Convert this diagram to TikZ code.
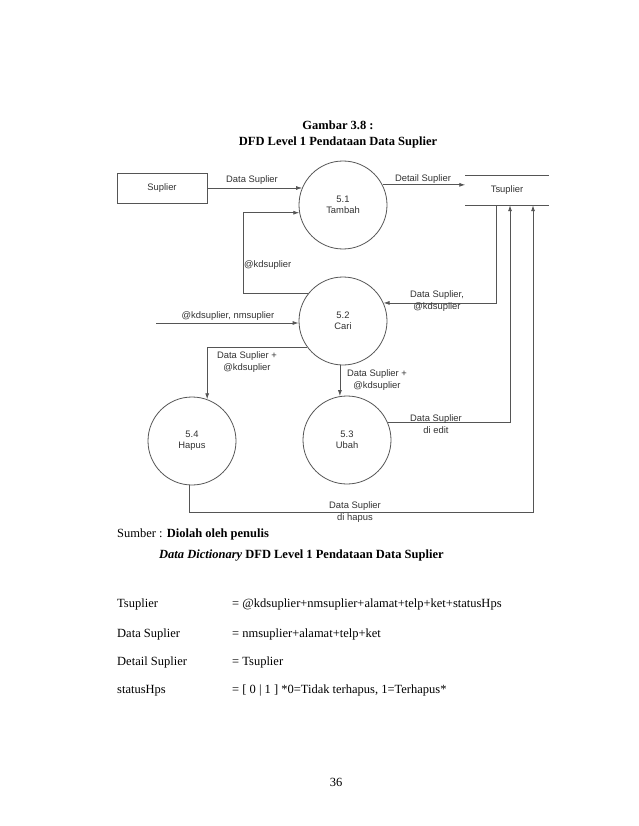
\documentclass[tikz,border=0pt]{standalone}
\usepackage{fontspec}
\setmainfont{Liberation Serif}
\newfontfamily\arialf{Liberation Sans}
\usetikzlibrary{arrows.meta,calc}
\definecolor{linec}{RGB}{85,85,85}
\definecolor{textc}{RGB}{50,50,50}
\tikzset{
  dfont/.style={font=\arialf\fontsize{9.4}{12}\selectfont,text=textc},
  proc/.style={circle,draw=linec,line width=0.8pt,minimum size=88pt,inner sep=0pt,align=center,font=\arialf\fontsize{9.4}{11}\selectfont,text=textc},
  ent/.style={rectangle,draw=linec,line width=0.8pt,minimum width=90pt,minimum height=30pt,inner sep=0pt,dfont},
  store/.style={rectangle,minimum width=83pt,minimum height=29pt,inner sep=0pt,dfont},
  flow/.style={draw=linec,line width=0.8pt},
  flowa/.style={flow,-{Latex[length=6pt,width=4pt]}},
  lbl/.style={dfont,align=center,inner sep=0pt},
  body/.style={font=\fontsize{12.5}{15}\selectfont,inner sep=0pt,anchor=base west},
}
\begin{document}
\begin{tikzpicture}[x=1pt,y=-1pt]
\useasboundingbox (0,0) rectangle (638,826);
\fill[white] (0,0) rectangle (638,826);

% title
\node[body,anchor=base] (t1) at (338,129.5) {\textbf{Gambar 3.8 :}};
\node[body,anchor=base] (t2) at (338,146) {\textbf{DFD Level 1 Pendataan Data Suplier}};

% nodes
\node[ent] (sup) at (162,188) {Suplier};
\node[proc] (p1) at (343,205) {5.1\\Tambah};
\node[proc] (p2) at (343,321) {5.2\\Cari};
\node[proc] (p3) at (347,440) {5.3\\Ubah};
\node[proc] (p4) at (192,441) {5.4\\Hapus};
\node[store] (ts) at (507,190.5) {Tsuplier};
\draw[flow] (ts.north west) -- (ts.north east);
\draw[flow] (ts.south west) -- (ts.south east);

\coordinate (k1) at (243,213);
\coordinate (c1) at (496,303);
\coordinate (in) at (156,323);
\coordinate (c2) at (510,422);
\coordinate (c3) at (533,512);

% flows
\draw[flowa] (sup.east) -- (sup.east -| p1.157);
\draw[flowa] (p2.142) -| (p1.190 -| k1) -- (p1.190);
\draw[flowa] (p1.27) -- (p1.27 -| ts.west);
\draw[flowa] (c1 |- ts.south) |- (p2.24);
\draw[flowa] (in) -- (p2.west |- in);
\draw[flowa] (p2.216) -| (p4.70);
\draw[flowa] (p2.266) -- (p3.99 -| p2.266);
\draw[flowa] (p3.24) -| (c2 |- ts.south);
\draw[flowa] (p4.266) |- (c3) -- (c3 |- ts.south);

% labels
\node[lbl] (l1) at (252,180) {Data Suplier};
\node[lbl,anchor=west] (l2) at (244,265) {@kdsuplier};
\node[lbl] (l3) at (423,179) {Detail Suplier};
\node[lbl] (l4) at (437,301) {Data Suplier,\\@kdsuplier};
\node[lbl] (l5) at (228,316) {@kdsuplier, nmsuplier};
\node[lbl] (l6) at (247,362) {Data Suplier +\\@kdsuplier};
\node[lbl] (l7) at (377,380.5) {Data Suplier +\\@kdsuplier};
\node[lbl] (l8) at (436,424) {Data Suplier\\di edit};
\node[lbl] (l9) at (355,512) {Data Suplier\\di hapus};

% body text
\node[body] (s1) at (117,537) {Sumber : \textbf{Diolah oleh penulis}};
\node[body] (s2) at (159,558) {\textbf{\textit{Data Dictionary} DFD Level 1 Pendataan Data Suplier}};
\node[body] (d1) at (117,607) {Tsuplier};
\node[body] (e1) at (232,607) {= @kdsuplier+nmsuplier+alamat+telp+ket+statusHps};
\node[body] (d2) at (117,637) {Data Suplier};
\node[body] (e2) at (232,637) {= nmsuplier+alamat+telp+ket};
\node[body] (d3) at (117,665) {Detail Suplier};
\node[body] (e3) at (232,665) {= Tsuplier};
\node[body] (d4) at (117,693) {statusHps};
\node[body] (e4) at (232,693) {= [ 0 | 1 ] *0=Tidak terhapus, 1=Terhapus*};
\node[body,anchor=base] (pg) at (336,786) {36};
\end{tikzpicture}
\end{document}
